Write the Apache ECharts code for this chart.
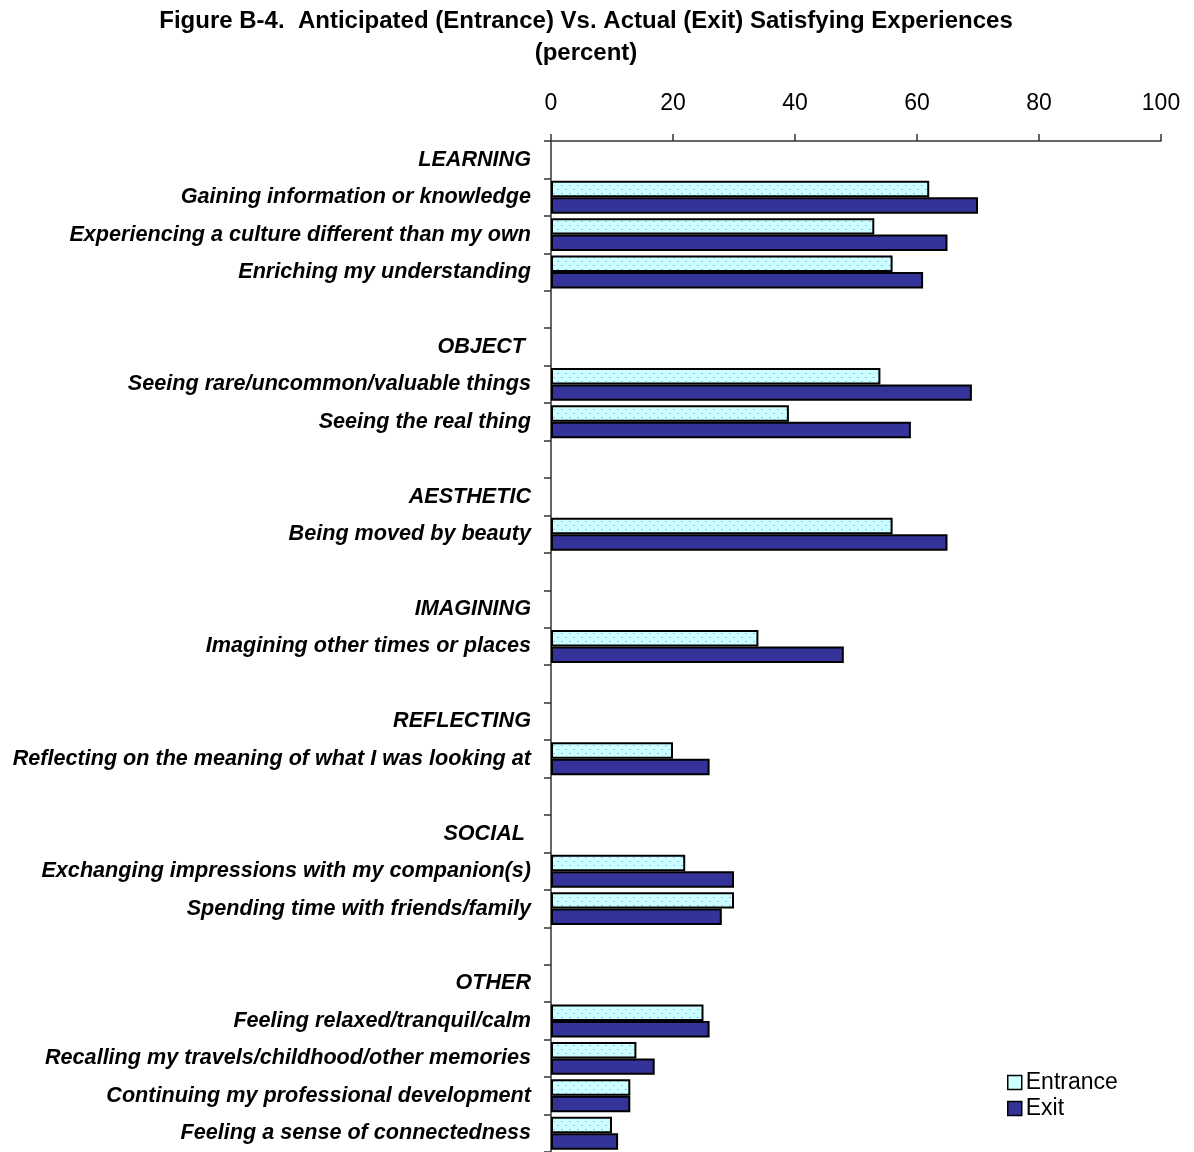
<!DOCTYPE html>
<html><head><meta charset="utf-8">
<script src="https://cdn.jsdelivr.net/npm/echarts@6/dist/echarts.min.js"></script>
<style>html,body{margin:0;padding:0;background:#fff}#c{width:1194px;height:1152px}</style>
</head><body><div id="c"></div>
<script>
const categories = [
  'LEARNING', 'Gaining information or knowledge', 'Experiencing a culture different than my own', 'Enriching my understanding', '',
  'OBJECT ', 'Seeing rare/uncommon/valuable things', 'Seeing the real thing', ' ',
  'AESTHETIC', 'Being moved by beauty', '  ',
  'IMAGINING', 'Imagining other times or places', '   ',
  'REFLECTING', 'Reflecting on the meaning of what I was looking at', '    ',
  'SOCIAL ', 'Exchanging impressions with my companion(s)', 'Spending time with friends/family', '     ',
  'OTHER', 'Feeling relaxed/tranquil/calm', 'Recalling my travels/childhood/other memories', 'Continuing my professional development', 'Feeling a sense of connectedness'
];
const entrance = [null, 62, 53, 56, null, null, 54, 39, null, null, 56, null, null, 34, null, null, 20, null, null, 22, 30, null, null, 25, 14, 13, 10];
const exit     = [null, 70, 65, 61, null, null, 69, 59, null, null, 65, null, null, 48, null, null, 26, null, null, 30, 28, null, null, 26, 17, 13, 11];
const xTicks = [0, 20, 40, 60, 80, 100];

const pc = document.createElement('canvas');
pc.width = 8; pc.height = 8;
const g = pc.getContext('2d');
g.fillStyle = '#ccffff'; g.fillRect(0, 0, 8, 8);
g.fillStyle = '#8fc4ff';
g.fillRect(1, 1, 2, 1); g.fillRect(5, 5, 2, 1);
const pattern = { image: pc, repeat: 'repeat' };

const chart = echarts.init(document.getElementById('c'), null, { renderer: 'canvas' });
chart.setOption({
  animation: false,
  backgroundColor: '#fff',
  title: {
    text: 'Figure B-4.  Anticipated (Entrance) Vs. Actual (Exit) Satisfying Experiences\n(percent)',
    left: 581, top: 0, textAlign: 'center',
    textStyle: { fontFamily: 'Liberation Sans, Arial', fontWeight: 'bold', fontSize: 24, lineHeight: 32, color: '#000' }
  },
  legend: {
    orient: 'vertical', left: 1002, top: 1066,
    itemWidth: 14, itemHeight: 14, itemGap: 3,
    textStyle: { fontFamily: 'Liberation Sans, Arial', fontSize: 23, color: '#000', padding: [0, 0, 0, -1] },
    data: [
      { name: 'Entrance', icon: 'rect', itemStyle: { color: '#ccffff', borderColor: '#000', borderWidth: 1.5 } },
      { name: 'Exit', icon: 'rect', itemStyle: { color: '#333399', borderColor: '#000', borderWidth: 1.5 } }
    ]
  },
  grid: { left: 551, top: 141, width: 610, height: 1012, containLabel: false },
  xAxis: {
    type: 'value', position: 'top', min: 0, max: 100, interval: 20,
    axisLine: { show: true, lineStyle: { color: '#333', width: 1.5 } },
    axisTick: { show: true, length: 7, lineStyle: { color: '#333', width: 1.5 } },
    axisLabel: { margin: 26, fontFamily: 'Liberation Sans, Arial', fontSize: 23, color: '#000',
      formatter: v => xTicks.includes(v) ? String(v) : '' },
    splitLine: { show: false }
  },
  yAxis: {
    type: 'category', inverse: true, data: categories,
    axisLine: { show: true, lineStyle: { color: '#333', width: 1.5 } },
    axisTick: { show: true, length: 7, lineStyle: { color: '#333', width: 1.5 } },
    axisLabel: { margin: 20, fontFamily: 'Liberation Sans, Arial', fontWeight: 'bold', fontStyle: 'italic', fontSize: 21.6, color: '#000', interval: 0 }
  },
  series: [
    { name: 'Entrance', type: 'bar', data: entrance, barGap: '0%', barCategoryGap: '12%',
      itemStyle: { color: pattern, borderColor: '#000', borderWidth: 2 } },
    { name: 'Exit', type: 'bar', data: exit,
      itemStyle: { color: '#333399', borderColor: '#000', borderWidth: 2 } }
  ]
});
</script></body></html>
